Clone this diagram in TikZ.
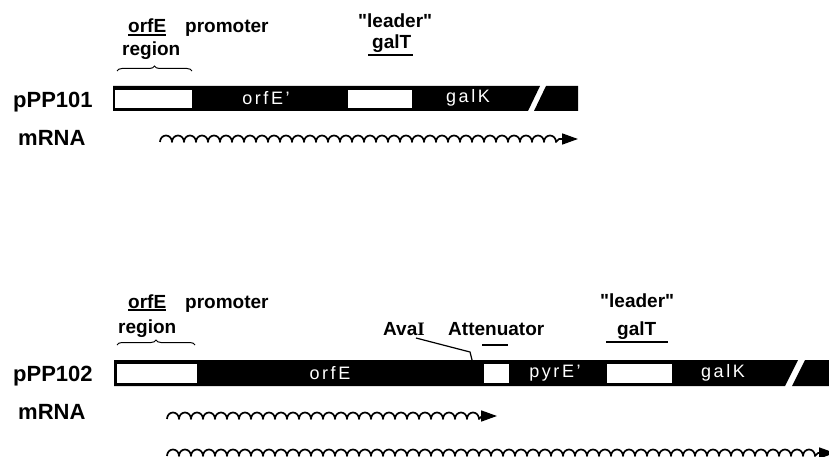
\documentclass[tikz,border=0pt]{standalone}
\usepackage{fontspec}
\setmainfont{Liberation Sans}
\newfontfamily\romanI{Liberation Serif}
\usetikzlibrary{arrows.meta,decorations.pathreplacing}

\tikzset{
  lbl/.style={font=\bfseries\fontsize{19}{22}\selectfont, inner sep=0pt, anchor=base west},
  rowlbl/.style={lbl, font=\bfseries\fontsize{22}{24}\selectfont},
  genetxt/.style={text=white, inner sep=0pt, font=\fontsize{18}{20}\selectfont\addfontfeature{LetterSpace=14}},
  gene/.style={fill=black},
  gap/.style={fill=white},
  rna/.style={line width=1.7pt, line join=round},
  uline/.style={line width=1.2pt},
  region brace/.style={line width=1pt, decorate, decoration={brace, amplitude=5pt}},
}

\newcommand{\mrnawave}[4]{%
  \draw[rna,-{Triangle[length=16pt,width=11pt]}] (#1,#2)
    \foreach \k in {1,...,#3}{ arc[start angle=180,end angle=360,x radius=6,y radius=6.5] }
    -- ++(3,-3) -- (#4,#2-3);
}
\newcommand{\qq}{\textquotedbl}

\begin{document}
\begin{tikzpicture}[x=1pt,y=-1pt]
		\useasboundingbox (0,0) rectangle (829,457);

		% pPP101
		\node[lbl] (orfa) at (128,33) {orfE};
		\node[lbl] (proma) at (185,33) {promoter};
		\node[lbl] (rega) at (122,56) {region};
		\node[lbl] (leada) at (358,28) {\qq leader\qq};
		\node[lbl] (galta) at (372,49) {galT};
		\node[rowlbl] (plasa) at (13,108) {pPP101};
		\node[rowlbl] (rnaa) at (18,146) {mRNA};
		\draw[uline] ([yshift=-2pt]orfa.base west) -- ([yshift=-2pt]orfa.base east);
		\draw[uline] ([xshift=-4pt,yshift=-6pt]galta.base west) -- ([xshift=2pt,yshift=-6pt]galta.base east);
		\draw[region brace] (117,71) -- (192,71);

		\fill[gene] (113,86) -- (540,86) -- (528,111) -- (113,111) -- cycle;
		\fill[gene] (546,86) -- (578,86) -- (578,111) -- (534,111) -- cycle;
		\fill[gap] (115,90) rectangle (192,108);
		\fill[gap] (348,90) rectangle (412,108);
		\node[genetxt] (orfea) at (266,98) {orfE'};
		\node[genetxt] (galka) at (468,98) {galK};

		\mrnawave{160}{142}{33}{578}

		% pPP102
		\node[lbl] (orfb) at (128,308) {orfE};
		\node[lbl] (promb) at (185,308) {promoter};
		\node[lbl] (regb) at (118,333) {region};
		\node[lbl] (ava) at (383,335) {Ava{\romanI I}};
		\node[lbl] (atten) at (448,335) {Attenuator};
		\node[lbl] (leadb) at (600,307) {\qq leader\qq};
		\node[lbl] (galtb) at (617,335) {galT};
		\node[rowlbl] (plasb) at (13,381) {pPP102};
		\node[rowlbl] (rnab) at (18,419) {mRNA};
		\draw[uline] ([yshift=-2pt]orfb.base west) -- ([yshift=-2pt]orfb.base east);
		\draw[uline] ([xshift=-11pt,yshift=-7pt]galtb.base west) -- ([xshift=12pt,yshift=-7pt]galtb.base east);
		\draw[uline] (482,345) -- (508,345);
		\draw[region brace] (117,345) -- (195,345);

		\fill[gene] (114,360) -- (798,360) -- (785,386) -- (114,386) -- cycle;
		\fill[gene] (805,360) -- (835,360) -- (835,386) -- (792,386) -- cycle;
		\fill[gap] (117,364) rectangle (197,383);
		\fill[gap] (484,364) rectangle (509,383);
		\fill[gap] (607,364) rectangle (672,383);
		\node[genetxt] (orfeb) at (330,373) {orfE};
		\node[genetxt] (pyre) at (555,373) {pyrE'};
		\node[genetxt] (galkb) at (723,373) {galK};

		\coordinate (avabend) at (470,352);
		\coordinate (avasite) at (472,360);
		\draw[uline] ([xshift=12pt,yshift=-3pt]ava.base) -- (avabend) -- (avasite);

		\mrnawave{167}{419}{26}{497}
		\mrnawave{167}{456}{54}{835}
\end{tikzpicture}
\end{document}
